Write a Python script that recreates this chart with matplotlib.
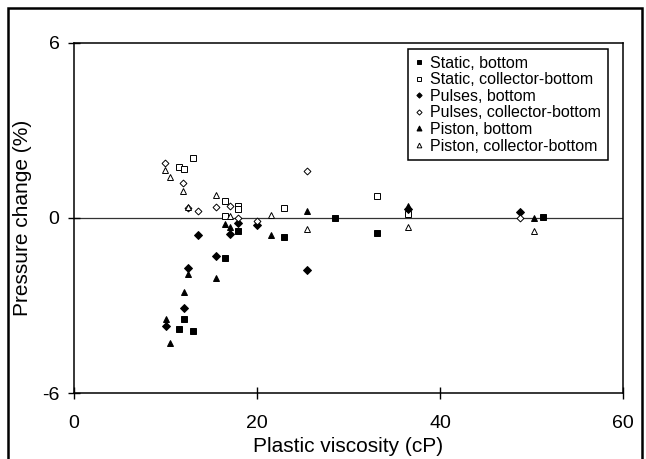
import matplotlib
matplotlib.use("Agg")
import matplotlib.pyplot as plt
from matplotlib.patches import Rectangle

plt.rcParams['font.family'] = ['Liberation Sans', 'DejaVu Sans']
plt.rcParams['axes.unicode_minus'] = False

# Static method
static_bottom_x = [11.5, 12.0, 13.0, 16.5, 17.95, 22.95, 28.5, 33.1, 51.3]
static_bottom_y = [-3.8, -3.47, -3.87, -1.36, -0.43, -0.64, 0.0, -0.5, 0.03]
static_coll_x = [11.5, 12.0, 13.0, 16.5, 16.5, 17.95, 17.95, 22.95, 33.1, 36.5]
static_coll_y = [1.74, 1.69, 2.06, 0.57, 0.07, 0.41, 0.30, 0.33, 0.75, 0.12]

# Pulse method
pulses_bottom_x = [10.0, 12.0, 12.5, 13.5, 15.5, 17.0, 17.95, 20.0, 25.5, 36.5, 48.7]
pulses_bottom_y = [-3.7, -3.1, -1.7, -0.6, -1.3, -0.56, -0.18, -0.24, -1.78, 0.3, 0.2]
pulses_coll_x = [9.95, 11.95, 12.5, 13.5, 15.5, 17.0, 17.95, 20.0, 25.5, 48.7]
pulses_coll_y = [1.87, 1.21, 0.33, 0.25, 0.37, 0.41, 0.0, -0.09, 1.61, 0.0]

# Piston method
piston_bottom_x = [10.0, 10.5, 12.0, 12.5, 15.5, 16.5, 17.0, 21.5, 25.5, 36.5, 50.3]
piston_bottom_y = [-3.47, -4.27, -2.53, -1.93, -2.05, -0.22, -0.3, -0.6, 0.24, 0.42, 0.0]
piston_coll_x = [9.95, 10.5, 11.95, 12.5, 15.5, 17.0, 21.5, 25.5, 36.5, 50.3]
piston_coll_y = [1.65, 1.42, 0.93, 0.38, 0.79, 0.07, 0.1, -0.39, -0.32, -0.44]

x_ticks = [0, 20, 40, 60]
y_ticks = [-6, 0, 6]

fig = plt.figure(figsize=(6.46, 4.59), dpi=100)
ax = fig.add_axes([74 / 646, 1 - 393 / 459, 549 / 646, 350 / 459])

# outer frame around the whole figure
fig.patches.append(Rectangle((8 / 646, -0.05), 634 / 646, 1 - 8 / 459 + 0.05,
                             transform=fig.transFigure, fill=False,
                             edgecolor='black', linewidth=1.8))

ax.axhline(0, color='#333333', linewidth=0.9, zorder=1)

series = [
    (static_bottom_x, static_bottom_y, 's', True, 4.4, 'Static, bottom'),
    (static_coll_x, static_coll_y, 's', False, 4.4, 'Static, collector-bottom'),
    (pulses_bottom_x, pulses_bottom_y, 'D', True, 3.6, 'Pulses, bottom'),
    (pulses_coll_x, pulses_coll_y, 'D', False, 3.5, 'Pulses, collector-bottom'),
    (piston_bottom_x, piston_bottom_y, '^', True, 4.8, 'Piston, bottom'),
    (piston_coll_x, piston_coll_y, '^', False, 4.5, 'Piston, collector-bottom'),
]
for xs, ys, m, filled, ms, lab in series:
    ax.plot(xs, ys, linestyle='none', marker=m, markersize=ms,
            markerfacecolor='black' if filled else 'white',
            markeredgecolor='black', markeredgewidth=0.7, label=lab, zorder=3)

ax.set_xlim(0, 60)
ax.set_ylim(-6, 6)
ax.set_xticks(x_ticks)
ax.set_yticks(y_ticks)
ax.tick_params(axis='both', direction='inout', length=9, width=1.0,
               labelsize=14, color='black')
ax.tick_params(axis='x', pad=11)
ax.tick_params(axis='y', pad=6)
for sp in ax.spines.values():
    sp.set_linewidth(1.1)

ax.set_xlabel('Plastic viscosity (cP)', fontsize=15, labelpad=4)
ax.set_ylabel('Pressure change (%)', fontsize=15, labelpad=7)

leg = ax.legend(loc='upper right', bbox_to_anchor=(0.972, 0.982),
                fontsize=11.5, frameon=True, fancybox=False, framealpha=1,
                edgecolor='black', markerscale=0.75, handlelength=0.6,
                handletextpad=0.4, labelspacing=0.1, borderpad=0.4,
                borderaxespad=0)
leg.get_frame().set_linewidth(1.1)

fig.savefig('out.png', dpi=100)
